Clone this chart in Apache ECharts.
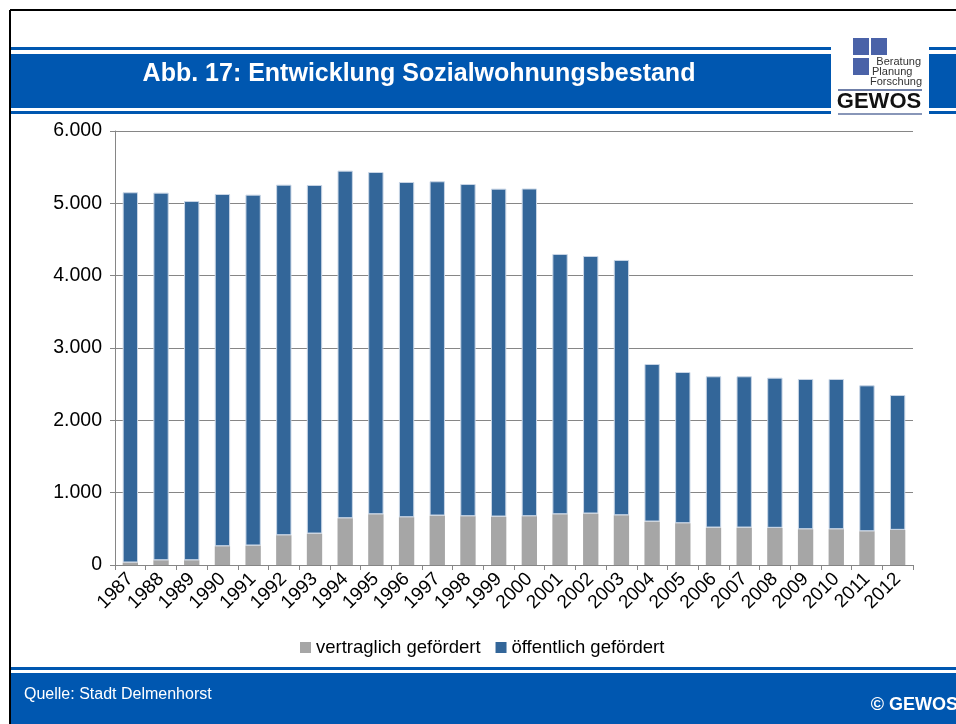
<!DOCTYPE html>
<html>
<head>
<meta charset="utf-8">
<script src="https://cdn.jsdelivr.net/npm/echarts@6/dist/echarts.min.js"></script>
<style>
  html, body { margin: 0; padding: 0; background: #fff; }
  #chart { width: 956px; height: 724px; }
</style>
</head>
<body>
<div id="chart"></div>
<script>
// Daten: Sozialwohnungsbestand Delmenhorst
const jahre = ['1987','1988','1989','1990','1991','1992','1993','1994','1995','1996','1997','1998','1999',
               '2000','2001','2002','2003','2004','2005','2006','2007','2008','2009','2010','2011','2012'];
const vertraglich = [35, 66, 66, 260, 270, 412, 435, 647, 702, 661, 684, 675, 670,
                     675, 702, 712, 688, 601, 578, 518, 518, 514, 495, 495, 467, 486];
const gesamt = [5153, 5148, 5032, 5129, 5120, 5258, 5254, 5452, 5433, 5295, 5305, 5267, 5203,
                5205, 4300, 4272, 4217, 2779, 2668, 2609, 2609, 2590, 2572, 2572, 2484, 2350];
const oeffentlich = gesamt.map((g, i) => g - vertraglich[i]);

const blau = '#0057b0';
const schrift = '"Liberation Sans", Arial, sans-serif';

const formatDe = v => {
    const s = String(v);
    return s.length > 3 ? s.slice(0, s.length - 3) + '.' + s.slice(-3) : s;
};

const chart = echarts.init(document.getElementById('chart'));

const option = {
    animation: false,
    textStyle: { fontFamily: schrift },
    grid: { left: 115, right: 43, top: 131, bottom: 159 },
    legend: {
        left: 295, top: 633,
        icon: 'rect', itemWidth: 11, itemHeight: 11, itemGap: 15,
        itemStyle: { borderWidth: 0 },
        textStyle: { fontSize: 18.5, color: '#000', fontFamily: schrift },
        data: ['vertraglich gefördert', 'öffentlich gefördert']
    },
    xAxis: {
        type: 'category',
        data: jahre,
        axisLine: { lineStyle: { color: '#868686' } },
        axisTick: { show: true, length: 5, lineStyle: { color: '#868686' } },
        axisLabel: { rotate: 45, fontSize: 19, color: '#000', margin: 11, interval: 0, fontFamily: schrift }
    },
    yAxis: {
        type: 'value',
        min: 0, max: 6000, interval: 1000,
        axisLine: { show: true, lineStyle: { color: '#868686' } },
        axisTick: { show: true, length: 5, lineStyle: { color: '#868686' } },
        splitLine: { lineStyle: { color: '#868686' } },
        axisLabel: { fontSize: 19.5, color: '#000', margin: 13, formatter: formatDe, fontFamily: schrift }
    },
    series: [
        {
            name: 'vertraglich gefördert', type: 'bar', stack: 'a',
            data: vertraglich, barWidth: '50%',
            itemStyle: { color: '#a6a6a6' }
        },
        {
            name: 'öffentlich gefördert', type: 'bar', stack: 'a',
            data: oeffentlich, barWidth: '50%',
            itemStyle: { color: '#336699', borderColor: '#c9d6e6', borderWidth: 1 }
        }
    ],
    graphic: [
        // Rahmen
        { type: 'line', shape: { x1: 10, y1: 10, x2: 956, y2: 10 }, style: { stroke: '#000', lineWidth: 2 } },
        { type: 'line', shape: { x1: 10, y1: 10, x2: 10, y2: 724 }, style: { stroke: '#000', lineWidth: 2 } },
        // Kopfband
        { type: 'rect', shape: { x: 11, y: 47, width: 820, height: 3 }, style: { fill: blau } },
        { type: 'rect', shape: { x: 11, y: 54, width: 820, height: 54 }, style: { fill: blau } },
        { type: 'rect', shape: { x: 11, y: 111, width: 820, height: 3 }, style: { fill: blau } },
        { type: 'rect', shape: { x: 929, y: 47, width: 27, height: 3 }, style: { fill: blau } },
        { type: 'rect', shape: { x: 929, y: 54, width: 27, height: 54 }, style: { fill: blau } },
        { type: 'rect', shape: { x: 929, y: 111, width: 27, height: 3 }, style: { fill: blau } },
        {
            type: 'text', x: 419, y: 74,
            style: { text: 'Abb. 17: Entwicklung Sozialwohnungsbestand', fill: '#fff',
                     font: 'bold 25px ' + schrift, textAlign: 'center', textVerticalAlign: 'middle' }
        },
        // Logo
        { type: 'rect', shape: { x: 853, y: 38, width: 16, height: 17 }, style: { fill: '#4a62a8' } },
        { type: 'rect', shape: { x: 871, y: 38, width: 16, height: 17 }, style: { fill: '#4a62a8' } },
        { type: 'rect', shape: { x: 853, y: 58, width: 16, height: 17 }, style: { fill: '#4a62a8' } },
        { type: 'text', x: 921, y: 62, style: { text: 'Beratung', fill: '#333', font: '11px ' + schrift, textAlign: 'right', textVerticalAlign: 'middle' } },
        { type: 'text', x: 872, y: 72, style: { text: 'Planung', fill: '#333', font: '11px ' + schrift, textAlign: 'left', textVerticalAlign: 'middle' } },
        { type: 'text', x: 922, y: 82, style: { text: 'Forschung', fill: '#333', font: '11px ' + schrift, textAlign: 'right', textVerticalAlign: 'middle' } },
        { type: 'rect', shape: { x: 838, y: 89, width: 84, height: 2 }, style: { fill: '#6f7fa8' } },
        { type: 'text', x: 879, y: 102, style: { text: 'GEWOS', fill: '#111', font: 'bold 22px ' + schrift, textAlign: 'center', textVerticalAlign: 'middle' } },
        { type: 'rect', shape: { x: 838, y: 113, width: 84, height: 2 }, style: { fill: '#8896b8' } },
        // Fußband
        { type: 'rect', shape: { x: 11, y: 667, width: 945, height: 3 }, style: { fill: blau } },
        { type: 'rect', shape: { x: 11, y: 673, width: 945, height: 51 }, style: { fill: blau } },
        { type: 'text', x: 24, y: 695, style: { text: 'Quelle: Stadt Delmenhorst', fill: '#fff', font: '16px ' + schrift, textVerticalAlign: 'middle' } },
        { type: 'text', x: 958, y: 705, style: { text: '© GEWOS', fill: '#fff', font: 'bold 18px ' + schrift, textAlign: 'right', textVerticalAlign: 'middle' } }
    ]
};

chart.setOption(option);
</script>
</body>
</html>
